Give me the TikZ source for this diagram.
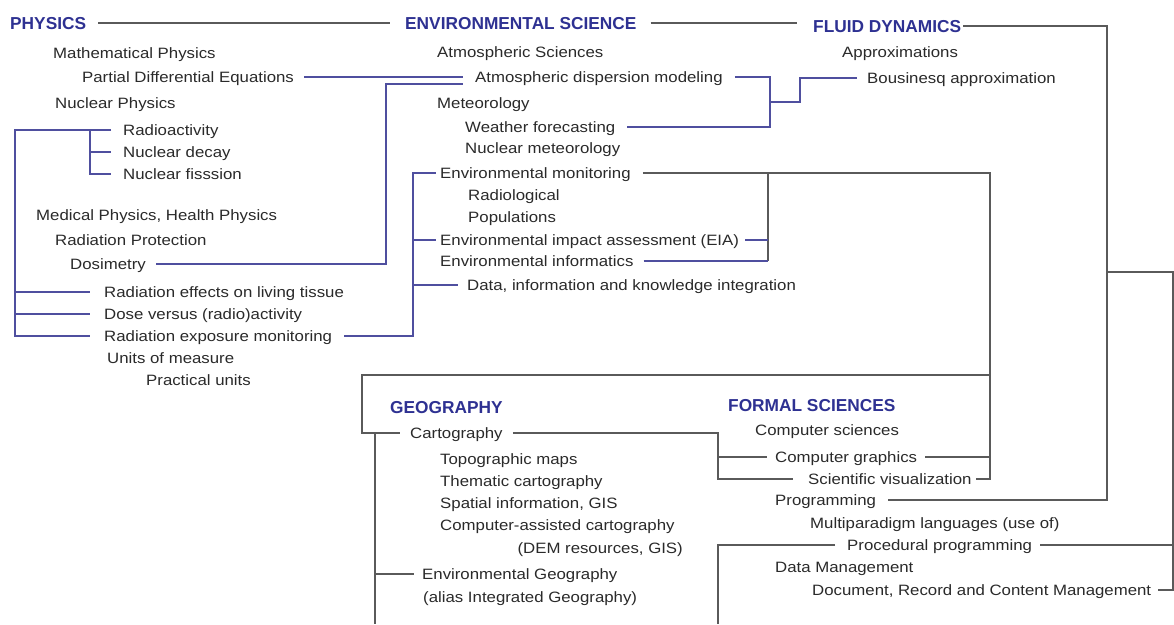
\documentclass[tikz,border=0pt]{standalone}
\usepackage{fontspec}
\setmainfont{Liberation Sans}[FakeStretch=1.12]
\newfontfamily\titlefont{Liberation Sans}
\definecolor{navy}{HTML}{2E3192}
\definecolor{textgray}{HTML}{2A2A2A}
\definecolor{linegray}{HTML}{5A5A5A}
\definecolor{lineblue}{HTML}{4F4F9F}
\begin{document}
\begin{tikzpicture}[x=1pt,y=-1pt,
  txt/.style={anchor=west, inner sep=0pt, text height=10.6pt, text depth=0pt, font=\fontsize{15}{18}\selectfont, text=textgray},
  ttl/.style={anchor=west, inner sep=0pt, text height=12.2pt, text depth=0pt, font=\titlefont\fontsize{17.3}{20}\selectfont\bfseries, text=navy},
  gline/.style={draw=linegray, line width=1.6pt},
  bline/.style={draw=lineblue, line width=1.6pt}]
\fill[white] (0,0) rectangle (1174,624);
\useasboundingbox (0,0) rectangle (1174,624);

% titles
\node[ttl] (phys) at (10,23) {PHYSICS};
\node[ttl] (env) at (405,23) {ENVIRONMENTAL SCIENCE};
\node[ttl] (fluid) at (813,26) {FLUID DYNAMICS};
\node[ttl] (geo) at (390,407) {GEOGRAPHY};
\node[ttl] (formal) at (728,405) {FORMAL SCIENCES};

% physics
\node[txt] (mathphys) at (53,53) {Mathematical Physics};
\node[txt] (pde) at (82,77) {Partial Differential Equations};
\node[txt] (nucphys) at (55,103) {Nuclear Physics};
\node[txt] (radio) at (123,130) {Radioactivity};
\node[txt] (decay) at (123,152) {Nuclear decay};
\node[txt] (fission) at (123,174) {Nuclear fisssion};
\node[txt] (medphys) at (36,215) {Medical Physics, Health Physics};
\node[txt] (radprot) at (55,240) {Radiation Protection};
\node[txt] (dosim) at (70,264) {Dosimetry};
\node[txt] (effects) at (104,292) {Radiation effects on living tissue};
\node[txt] (dose) at (104,314) {Dose versus (radio)activity};
\node[txt] (exposure) at (104,336) {Radiation exposure monitoring};
\node[txt] (units) at (107,358) {Units of measure};
\node[txt] (practical) at (146,380) {Practical units};

% environmental science
\node[txt] (atmsci) at (437,52) {Atmospheric Sciences};
\node[txt] (atmdisp) at (475,77) {Atmospheric dispersion modeling};
\node[txt] (meteo) at (437,103) {Meteorology};
\node[txt] (weather) at (465,127) {Weather forecasting};
\node[txt] (nucmet) at (465,148) {Nuclear meteorology};
\node[txt] (envmon) at (440,173) {Environmental monitoring};
\node[txt] (radiol) at (468,195) {Radiological};
\node[txt] (popul) at (468,217) {Populations};
\node[txt] (eia) at (440,240) {Environmental impact assessment (EIA)};
\node[txt] (envinf) at (440,261) {Environmental informatics};
\node[txt] (data) at (467,285) {Data, information and knowledge integration};

% fluid dynamics
\node[txt] (approx) at (842,52) {Approximations};
\node[txt] (bous) at (867,78) {Bousinesq approximation};

% geography
\node[txt] (carto) at (410,433) {Cartography};
\node[txt] (topo) at (440,459) {Topographic maps};
\node[txt] (thematic) at (440,481) {Thematic cartography};
\node[txt] (spatial) at (440,503) {Spatial information, GIS};
\node[txt] (compcarto) at (440,525) {Computer-assisted cartography};
\node[txt, anchor=east] (dem) at (683,548) {(DEM resources, GIS)};
\node[txt] (envgeo) at (422,574) {Environmental Geography};
\node[txt] (alias) at (423,597) {(alias Integrated Geography)};

% formal sciences
\node[txt] (compsci) at (755,430) {Computer sciences};
\node[txt] (compgraph) at (775,457) {Computer graphics};
\node[txt] (scivis) at (808,479) {Scientific visualization};
\node[txt] (prog) at (775,500) {Programming};
\node[txt] (multi) at (810,523) {Multiparadigm languages (use of)};
\node[txt] (proc) at (847,545) {Procedural programming};
\node[txt] (datamgmt) at (775,567) {Data Management};
\node[txt] (docmgmt) at (812,590) {Document, Record and Content Management};

% bus coordinates
\coordinate (rx1) at (1107,0);
\coordinate (rx2) at (1173,0);
\coordinate (rx3) at (990,0);
\coordinate (j1) at (1107,272);
\coordinate (j2) at (990,375);
\coordinate (gx1) at (362,0);
\coordinate (bot375) at (375,624);
\coordinate (b718) at (718,624);
\coordinate (cx) at (718,0);
\coordinate (ix) at (768,0);
\coordinate (dx) at (386,0);
\coordinate (ax) at (770,0);
\coordinate (ab) at (770,102);
\coordinate (bx) at (800,0);
\coordinate (lx) at (15,0);
\coordinate (rx) at (90,0);
\coordinate (mx) at (413,0);
\coordinate (adw) at ([xshift=-12pt,yshift=-7pt]atmdisp.west);
\coordinate (fw) at ([xshift=-16pt]fluid.west);

% gray connectors
\draw[gline] ([xshift=12pt]phys.east) -- ([xshift=-15pt]env.west);
\draw[gline] ([xshift=14pt]env.east) -- (fw |- env.east);
\draw[gline] ([xshift=2pt]fluid.east) -| (rx1 |- prog.east) -- ([xshift=12pt]prog.east);
\draw[gline] (j1) -| (rx2 |- docmgmt.east) -- ([xshift=7pt]docmgmt.east);
\draw[gline] ([xshift=8pt]proc.east) -- (rx2 |- proc.east);
\draw[gline] ([xshift=-12pt]proc.west) -| (b718);
\draw[gline] ([xshift=12pt]envmon.east) -| (rx3 |- scivis.east) -- ([xshift=4pt]scivis.east);
\draw[gline] (ix |- envmon.east) -- (ix |- envinf.east);
\draw[gline] (j2) -| (gx1 |- carto.west) -- ([xshift=-10pt]carto.west);
\draw[gline] (bot375 |- carto.west) -- (bot375);
\draw[gline] (bot375 |- envgeo.west) -- ([xshift=-8pt]envgeo.west);
\draw[gline] ([xshift=10pt]carto.east) -| (cx |- scivis.west) -- ([xshift=-15pt]scivis.west);
\draw[gline] (cx |- compgraph.west) -- ([xshift=-8pt]compgraph.west);
\draw[gline] ([xshift=8pt]compgraph.east) -- (rx3 |- compgraph.east);

% blue connectors
\draw[bline] ([xshift=10pt]pde.east) -- ([xshift=-12pt]atmdisp.west);
\draw[bline] ([xshift=10pt]dosim.east) -| (dx |- adw) -- (adw);
\draw[bline] ([xshift=12pt]atmdisp.east) -| (ax |- weather.east) -- ([xshift=12pt]weather.east);
\draw[bline] (ab) -| (bx |- bous.west) -- ([xshift=-10pt]bous.west);
\draw[bline] ([xshift=-12pt]radio.west) -- (lx |- radio.west) -- (lx |- exposure.west) -- ([xshift=-14pt]exposure.west);
\draw[bline] (rx |- radio.west) -- (rx |- fission.west) -- ([xshift=-12pt]fission.west);
\draw[bline] (rx |- decay.west) -- ([xshift=-12pt]decay.west);
\draw[bline] (lx |- effects.west) -- ([xshift=-14pt]effects.west);
\draw[bline] (lx |- dose.west) -- ([xshift=-14pt]dose.west);
\draw[bline] ([xshift=12pt]exposure.east) -| (mx |- envmon.west) -- ([xshift=-4pt]envmon.west);
\draw[bline] (mx |- eia.west) -- ([xshift=-4pt]eia.west);
\draw[bline] (mx |- data.west) -- ([xshift=-9pt]data.west);
\draw[bline] ([xshift=6pt]eia.east) -- (ix |- eia.east);
\draw[bline] ([xshift=10pt]envinf.east) -- (ix |- envinf.east);
\end{tikzpicture}
\end{document}
